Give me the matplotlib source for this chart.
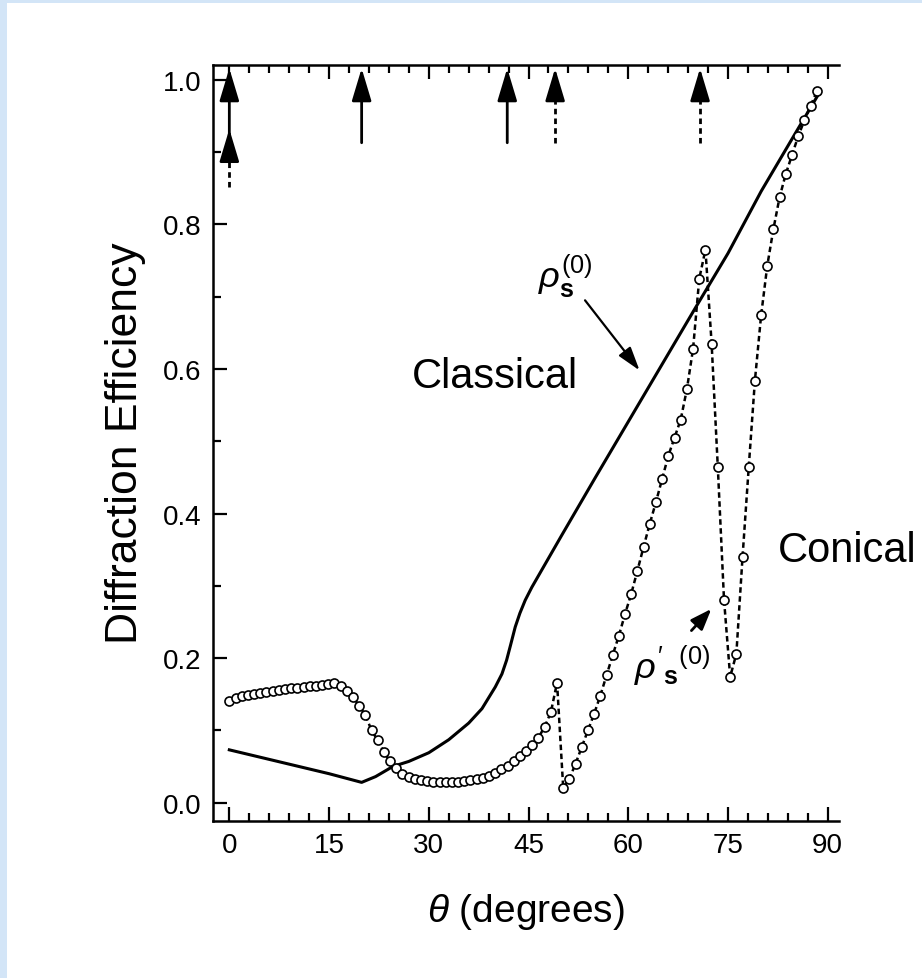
import numpy as np
import matplotlib.pyplot as plt
from matplotlib.patches import Rectangle
from matplotlib.ticker import MultipleLocator

plt.rcParams['font.family'] = ['Liberation Sans', 'DejaVu Sans']
plt.rcParams['mathtext.fontset'] = 'custom'
plt.rcParams['mathtext.rm'] = 'Liberation Sans'
plt.rcParams['mathtext.it'] = 'Liberation Sans:italic'
plt.rcParams['mathtext.bf'] = 'Liberation Sans:bold'

# classical mount, solid curve
theta_s = [0, 5, 10, 15, 19.9, 22, 24.6, 27, 30, 33, 36, 38, 40, 41, 41.7, 42.3,
           43, 43.7, 44.5, 45.5, 47, 50, 55, 60, 65, 70, 75, 80, 85, 88.8]
eff_s = [0.073, 0.062, 0.051, 0.040, 0.028, 0.036, 0.050, 0.057, 0.069, 0.087,
         0.110, 0.130, 0.160, 0.178, 0.197, 0.218, 0.243, 0.262, 0.280, 0.298,
         0.322, 0.370, 0.449, 0.527, 0.605, 0.683, 0.760, 0.846, 0.924, 0.983]

# conical mount, open circles
theta_c = [0.00, 0.93, 1.86, 2.79, 3.72, 4.65, 5.58, 6.51, 7.44, 8.37,
           9.30, 10.23, 11.16, 12.09, 13.02, 13.95, 14.88, 15.81, 16.74, 17.67,
           18.60, 19.53, 20.46, 21.39, 22.32, 23.25, 24.18, 25.11, 26.04, 26.97,
           27.90, 28.83, 29.76, 30.69, 31.62, 32.55, 33.48, 34.41, 35.34, 36.27,
           37.20, 38.13, 39.06, 39.99, 40.92, 41.85, 42.78, 43.71, 44.64, 45.57,
           46.50, 47.43, 48.36, 49.29, 50.22, 51.15, 52.08, 53.01, 53.94, 54.87,
           55.80, 56.73, 57.66, 58.59, 59.52, 60.45, 61.38, 62.31, 63.24, 64.17,
           65.10, 66.03, 66.96, 67.89, 68.82, 69.75, 70.68, 71.61, 72.54, 73.47,
           74.40, 75.33, 76.26, 77.19, 78.12, 79.05, 79.98, 80.91, 81.84, 82.77,
           83.70, 84.63, 85.56, 86.49, 87.42, 88.35]
eff_c = [0.140, 0.145, 0.147, 0.149, 0.150, 0.152, 0.153, 0.154, 0.156, 0.157,
         0.158, 0.159, 0.160, 0.161, 0.162, 0.163, 0.164, 0.165, 0.162, 0.155,
         0.146, 0.134, 0.121, 0.100, 0.086, 0.070, 0.057, 0.048, 0.040, 0.036,
         0.033, 0.031, 0.030, 0.029, 0.028, 0.028, 0.028, 0.029, 0.030, 0.031,
         0.032, 0.034, 0.037, 0.041, 0.046, 0.051, 0.057, 0.064, 0.072, 0.080,
         0.090, 0.105, 0.125, 0.166, 0.020, 0.033, 0.054, 0.077, 0.100, 0.123,
         0.148, 0.176, 0.204, 0.231, 0.261, 0.289, 0.321, 0.354, 0.386, 0.416,
         0.448, 0.480, 0.505, 0.530, 0.572, 0.628, 0.725, 0.765, 0.635, 0.464,
         0.281, 0.174, 0.206, 0.340, 0.464, 0.584, 0.674, 0.743, 0.794, 0.838,
         0.870, 0.896, 0.922, 0.944, 0.964, 0.984]

# Rayleigh anomaly markers along the top
arrow_solid_x = [0, 19.9, 41.8]
arrow_dashed_x = [49.0, 70.8]

fig = plt.figure(figsize=(9.22, 9.79), dpi=100)
fig.patch.set_facecolor('#d3e5f7')
fig.patches.append(Rectangle((0.008, 0.0), 0.992, 0.996, transform=fig.transFigure,
                             facecolor='white', edgecolor='none', zorder=-10))

ax = fig.add_axes([0.2307, 0.1607, 0.6793, 0.7722])
ax.set_facecolor('white')

ax.plot(theta_s, eff_s, color='k', lw=2.2, zorder=3)
ax.plot(theta_c, eff_c, color='k', lw=1.8, ls=(0, (2.2, 1.4)), marker='o', ms=6.5,
        mfc='white', mec='k', mew=1.2, zorder=4)

head = dict(arrowstyle='-|>,head_length=1.0,head_width=0.3', mutation_scale=20,
            lw=2, color='k', shrinkA=0, shrinkB=0)

for x in arrow_solid_x:
    ax.annotate('', xy=(x, 1.016), xytext=(x, 0.913), arrowprops=head)
for x in arrow_dashed_x:
    ax.plot([x, x], [0.913, 0.985], color='k', lw=2, ls=(0, (2, 1.5)))
    ax.annotate('', xy=(x, 1.016), xytext=(x, 0.978), arrowprops=head)
ax.plot([0, 0], [0.852, 0.905], color='k', lw=2, ls=(0, (2, 1.5)))
ax.annotate('', xy=(0, 0.932), xytext=(0, 0.895), arrowprops=head)

ax.text(40, 0.59, 'Classical', fontsize=30, ha='center', va='center')
ax.text(93.0, 0.35, 'Conical', fontsize=30, ha='center', va='center')

ax.text(50.5, 0.73, r'$\rho_{\mathbf{s}}^{\mathrm{(0)}}$', fontsize=26,
        ha='center', va='center')
ax.annotate('', xy=(61.7, 0.598), xytext=(53.5, 0.695),
            arrowprops=dict(arrowstyle='-|>,head_length=0.8,head_width=0.25',
                            mutation_scale=18, lw=1.6, color='k',
                            shrinkA=0, shrinkB=0))

ax.text(66.5, 0.19, r"$\rho^{\prime}{}_{\mathbf{s}}{}^{\mathrm{(0)}}$", fontsize=26,
        ha='center', va='center')
ax.annotate('', xy=(72.5, 0.268), xytext=(69.5, 0.238),
            arrowprops=dict(arrowstyle='-|>,head_length=0.8,head_width=0.3',
                            mutation_scale=16, lw=2, color='k',
                            shrinkA=0, shrinkB=0))

ax.set_xlim(-2.5, 91.7)
ax.set_ylim(-0.025, 1.021)
ax.set_xticks([0, 15, 30, 45, 60, 75, 90])
ax.set_yticks([0.0, 0.2, 0.4, 0.6, 0.8, 1.0])
ax.set_yticklabels(['0.0', '0.2', '0.4', '0.6', '0.8', '1.0'])
ax.xaxis.set_minor_locator(MultipleLocator(3))
ax.yaxis.set_minor_locator(MultipleLocator(0.1))
ax.tick_params(which='both', direction='in', top=True, right=False,
               labelsize=20, width=1.6, pad=8)
ax.tick_params(which='major', length=10)
ax.tick_params(which='minor', length=6)
ax.spines['right'].set_visible(False)
for s in ['left', 'top', 'bottom']:
    ax.spines[s].set_linewidth(1.8)

ax.set_xlabel(r'$\theta$ (degrees)', fontsize=28, labelpad=24)
ax.set_ylabel('Diffraction Efficiency', fontsize=32, labelpad=12)

fig.savefig('out.png', dpi=100, facecolor=fig.get_facecolor())
